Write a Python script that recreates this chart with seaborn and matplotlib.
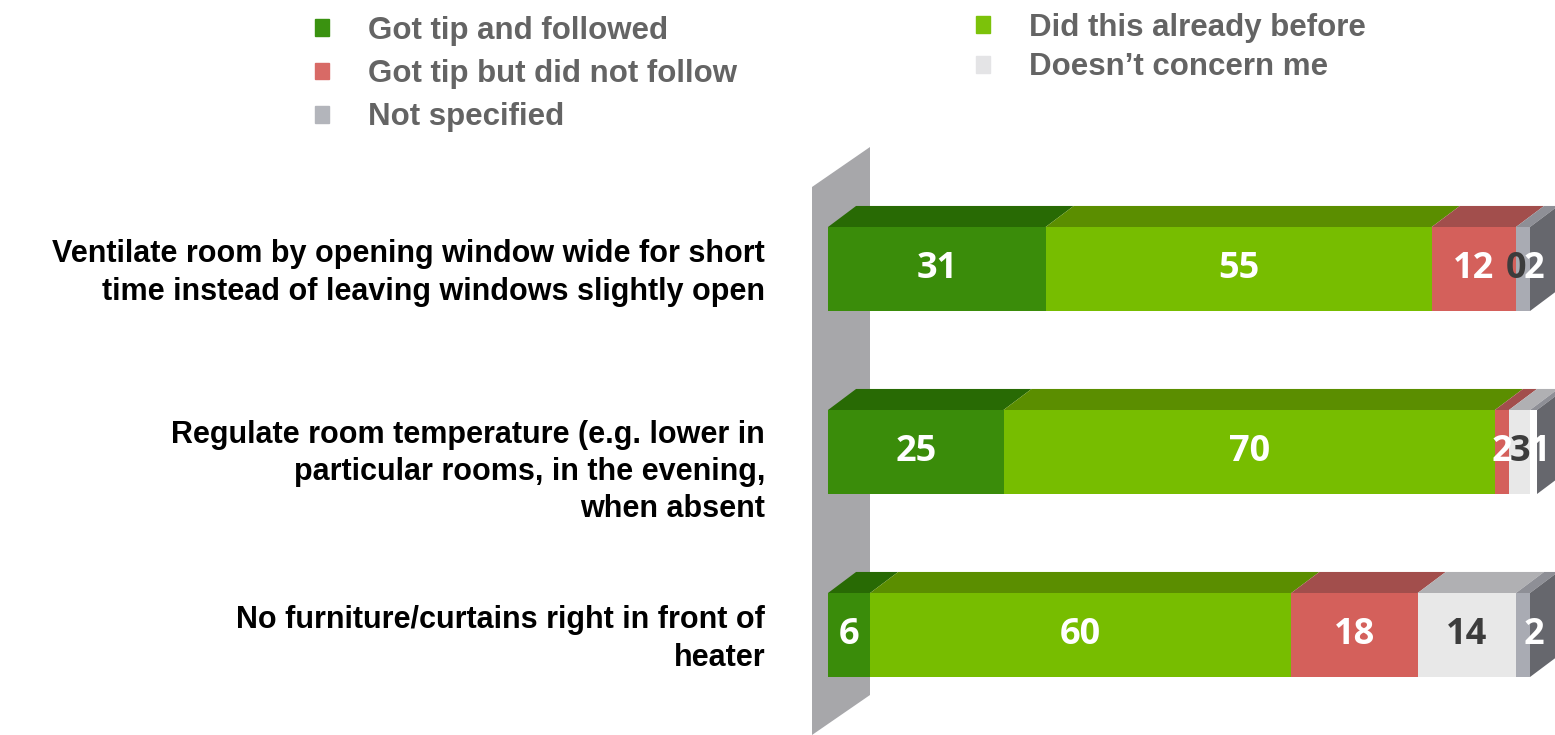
import pandas as pd
import seaborn as sns
import matplotlib.pyplot as plt
from matplotlib.patches import Polygon, Patch

# data
measures = [
    "Ventilate room by opening window wide for short\ntime instead of leaving windows slightly open",
    "Regulate room temperature (e.g. lower in\nparticular rooms, in the evening,\nwhen absent",
    "No furniture/curtains right in front of\nheater",
]
answers = ["Got tip and followed", "Did this already before",
           "Got tip but did not follow", "Doesn\u2019t concern me", "Not specified"]
followed = [31, 25, 6]
already = [55, 70, 60]
not_followed = [12, 2, 18]
no_concern = [0, 3, 14]
not_specified = [2, 1, 2]

front = ["#3a8c0a", "#77bd00", "#d4605b", "#e8e8e8", "#a9abb3"]
top = ["#286a04", "#5b8e00", "#a24e4c", "#b0b0b3", "#8e8f96"]
side = "#66676d"
label_col = ["white", "white", "white", "#3c3c3c", "white"]

df = pd.DataFrame({"measure": measures})
for name, vals in zip(answers, [followed, already, not_followed, no_concern, not_specified]):
    df[name] = vals
cum = df[answers].cumsum(axis=1)

sns.set_style("white")
plt.rcParams["font.family"] = ["Liberation Sans", "DejaVu Sans"]

W, H = 1555, 735
fig = plt.figure(figsize=(W / 100, H / 100), dpi=100)
ax = fig.add_axes([828 / W, 0, 702 / W, (H - 147) / H])
ax.patch.set_alpha(0)

BAR_H = 0.459
DX, DY = 4.0, 0.115   # depth of the fake 3d boxes, in data units

# stacked bars: draw the longest cumulative first
for k in reversed(range(len(answers))):
    sns.barplot(x=cum[answers[k]], y=df["measure"], orient="h", color=front[k],
                saturation=1, width=BAR_H, linewidth=0, ax=ax, zorder=2)

# back wall
wall = [(812, 187), (870, 147), (870, 695), (812, 735)]
ax.add_patch(Polygon([(x / W, 1 - y / H) for x, y in wall], closed=True,
                     transform=fig.transFigure, facecolor="#a7a7aa",
                     edgecolor="none", zorder=0.5, clip_on=False))

for j in range(len(measures)):
    yt = j - BAR_H / 2
    yb = j + BAR_H / 2
    left = 0
    for k, name in enumerate(answers):
        right = cum.loc[j, name]
        if right > left:
            ax.add_patch(Polygon([(left, yt), (right, yt), (right + DX, yt - DY), (left + DX, yt - DY)],
                                 closed=True, facecolor=top[k], edgecolor="none", zorder=3, clip_on=False))
        left = right
    total = cum.loc[j, answers[-1]]
    ax.add_patch(Polygon([(total, yt), (total + DX, yt - DY), (total + DX, yb - DY), (total, yb)],
                         closed=True, facecolor=side, edgecolor="none", zorder=3, clip_on=False))

    # value labels
    left = 0
    for k, name in enumerate(answers):
        right = cum.loc[j, name]
        xpos = (left + right) / 2 if k < len(answers) - 1 else right + 0.5
        ax.text(xpos, j, str(df.loc[j, name]), ha="center", va="center",
                color=label_col[k], fontsize=26, fontweight="bold",
                family=["Open Sans", "DejaVu Sans"], zorder=5, clip_on=False)
        left = right

# category labels
LABEL_NUDGE = [-4, -20, -4]
for j, m in enumerate(measures):
    ax.annotate(m, xy=(0, j), xycoords=("axes fraction", "data"),
                xytext=(-63, LABEL_NUDGE[j]), textcoords="offset pixels",
                ha="right", va="center", fontsize=22, fontweight="bold",
                color="black", linespacing=1.32, annotation_clip=False)

ax.set_xlim(0, 100)
ax.set_ylim(2 + (H - 635) / 183, -(269 - 147) / 183)
ax.set_xticks([])
ax.set_yticks([])
ax.set_xlabel("")
ax.set_ylabel("")
sns.despine(ax=ax, left=True, bottom=True)

# legends
prop = {"family": "Liberation Sans", "weight": "bold", "size": 22.5}
leg_kw = dict(frameon=False, prop=prop, labelcolor="#646464", handlelength=0.45,
              handleheight=0.45, handletextpad=1.25,
              borderpad=0, borderaxespad=0, loc="upper left")
legend_front = ["#3a9210", "#d86a66", "#b3b5bb", "#7cc20a", "#e4e4e6"]
order_left = [0, 2, 4]
order_right = [1, 3]
fig.legend(handles=[Patch(color=c) for c in legend_front[:3]],
           labels=[answers[i] for i in order_left], labelspacing=0.42,
           bbox_to_anchor=(315 / W, 1 - 16 / H), **leg_kw)
fig.legend(handles=[Patch(color=c) for c in legend_front[3:]],
           labels=[answers[i] for i in order_right], labelspacing=0.3,
           bbox_to_anchor=(976 / W, 1 - 13 / H), **leg_kw)

fig.savefig("out.png", dpi=100, facecolor="white")
